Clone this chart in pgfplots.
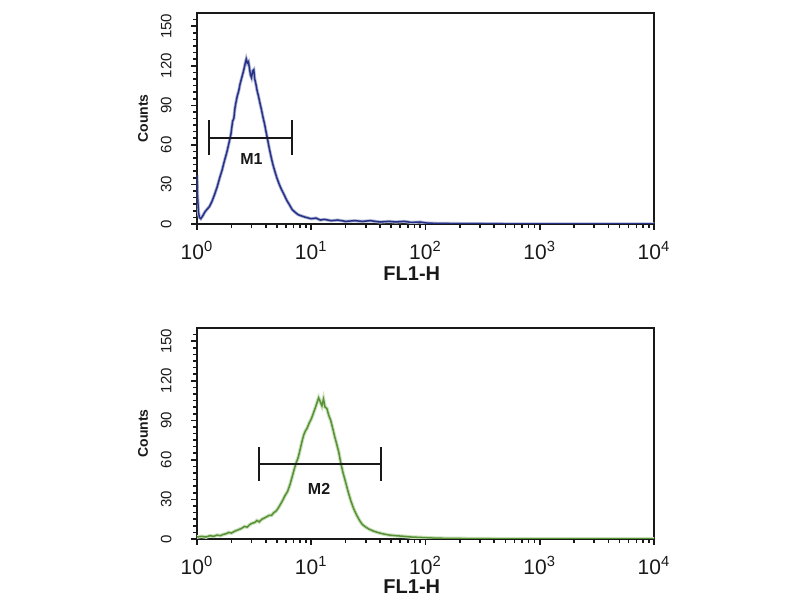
\documentclass[border=0pt]{standalone}
\usepackage{fontspec}
\setmainfont{Liberation Sans}
\usepackage{pgfplots}
\usepackage{pgfplotstable}
\pgfplotsset{compat=1.18}
\definecolor{fcblue}{RGB}{38,50,135}
\definecolor{fcgreen}{RGB}{105,170,65}
\definecolor{axgray}{RGB}{25,25,25}

\pgfplotstableread{
x y
1.00 37
1.01 22
1.03 9
1.05 5
1.08 4
1.12 6
1.17 9
1.22 11
1.28 13
1.35 17
1.42 22
1.50 28
1.58 35
1.66 41
1.74 48
1.82 54
1.90 61
1.98 68
2.05 78
2.10 80
2.15 88
2.19 92
2.25 97
2.32 101
2.38 106
2.43 109
2.50 113
2.57 117
2.63 121
2.70 125
2.76 122
2.82 123
2.88 118
2.94 113
3.00 111
3.07 116
3.14 117
3.20 110
3.28 106
3.36 101
3.45 97
3.55 92
3.66 87
3.78 81
3.90 76
4.02 70
4.15 64
4.30 57
4.45 51
4.62 45
4.80 40
5.00 35
5.25 30
5.50 26
5.80 22
6.10 18
6.40 15
6.80 11
7.20 9
7.70 7
8.30 6
9.00 5
10.0 4
11 4.5
12 3
13 3.5
15 2.5
17 3
20 2
24 2.5
28 2
33 2.5
40 1.5
48 2
55 1.5
65 2
75 1.2
90 1.5
100 0.8
120 0.5
150 0.4
200 0.3
300 0.2
500 0.1
1000 0
10000 0
}\topdata

\pgfplotstableread{
x y
1.0 1.5
1.1 2
1.2 1.5
1.3 2.5
1.4 2
1.5 3
1.6 2.5
1.7 3.5
1.8 4
1.9 5
2.0 4.5
2.15 6
2.3 7
2.45 8
2.6 9.5
2.75 9
2.9 11
3.05 12
3.2 12.5
3.35 14
3.5 13
3.7 15
3.9 16
4.1 17
4.3 18
4.5 18
4.7 20
4.9 21
5.1 23
5.35 26
5.6 29
5.9 33
6.2 36
6.5 41
6.8 47
7.1 53
7.4 58
7.7 62
8.0 68
8.3 74
8.6 79
8.9 82
9.2 84
9.6 88
10.0 91
10.4 95
10.8 99
11.2 103
11.6 107
12.0 104
12.4 101
12.8 106
13.2 100
13.7 99
14.2 94
14.8 90
15.4 84
16.0 78
16.7 72
17.4 66
18.2 57
19.0 50
20.0 43
21.0 36
22.2 29
23.5 23
25.0 18
26.5 14
28.0 11
30.0 9
32.0 7.5
35 6
38 5
42 4
48 3
55 2.5
65 2
75 1.5
90 1.2
110 0.8
150 0.5
250 0.3
500 0.1
1000 0
10000 0
}\botdata

\begin{document}
\begin{tikzpicture}
\path[use as bounding box] (0,0) rectangle (400pt,300pt);

\begin{axis}[
  at={(98.5pt,188pt)},
  scale only axis, width=228.5pt, height=105.5pt, anchor=south west,
  xmode=log, xmin=1, xmax=10000, ymin=0, ymax=160,
  xtick={1,10,100,1000,10000},
  xticklabels={10\textsuperscript{0},10\textsuperscript{1},10\textsuperscript{2},10\textsuperscript{3},10\textsuperscript{4}},
  minor xtick={2,3,4,5,6,7,8,9,20,30,40,50,60,70,80,90,200,300,400,500,600,700,800,900,2000,3000,4000,5000,6000,7000,8000,9000},
  ytick={0,30,60,90,120,150},
  minor ytick={5,10,15,20,25,35,40,45,50,55,65,70,75,80,85,95,100,105,110,115,125,130,135,140,145,155},
  tick align=outside, xtick pos=bottom, ytick pos=left,
  major tick length=3pt, minor tick length=1.8pt,
  axis line style={line width=1.3pt, axgray},
  every tick/.append style={axgray, line width=0.8pt},
  yticklabels={0,30,60,90,120,150},
  yticklabel style={rotate=90, anchor=south, inner ysep=9.5pt, font=\fontsize{7.5}{8}\selectfont, text=axgray},
  xticklabel style={yshift=-2pt, font=\fontsize{10.5}{11}\selectfont, text=axgray},
  xlabel={\textbf{FL1-H}},
  xlabel style={at={(axis description cs:0.47,-0.235)}, anchor=center, font=\fontsize{10}{11}\selectfont, text=axgray},
  ylabel={\textbf{Counts}},
  ylabel style={at={(axis description cs:-0.118,0.5)}, anchor=center, font=\fontsize{7}{8}\selectfont, text=axgray},
]
\addplot[fcblue!35, line width=1.6pt, no markers] table[x=x,y=y] {\topdata};
\addplot[fcblue, line width=0.75pt, no markers] table[x=x,y=y] {\topdata};
\addplot[axgray, line width=0.9pt, no markers] coordinates {(1.27,65.5) (6.8,65.5)};
\addplot[axgray, line width=0.9pt, no markers] coordinates {(1.27,52.5) (1.27,78.5)};
\addplot[axgray, line width=0.9pt, no markers] coordinates {(6.8,52.5) (6.8,78.5)};
\node[font=\fontsize{8}{9}\selectfont\bfseries, text=axgray] at (axis cs:3.0,49) {M1};
\end{axis}

\begin{axis}[
  at={(98.5pt,30.5pt)},
  scale only axis, width=228.5pt, height=105.5pt, anchor=south west,
  xmode=log, xmin=1, xmax=10000, ymin=0, ymax=160,
  xtick={1,10,100,1000,10000},
  xticklabels={10\textsuperscript{0},10\textsuperscript{1},10\textsuperscript{2},10\textsuperscript{3},10\textsuperscript{4}},
  minor xtick={2,3,4,5,6,7,8,9,20,30,40,50,60,70,80,90,200,300,400,500,600,700,800,900,2000,3000,4000,5000,6000,7000,8000,9000},
  ytick={0,30,60,90,120,150},
  minor ytick={5,10,15,20,25,35,40,45,50,55,65,70,75,80,85,95,100,105,110,115,125,130,135,140,145,155},
  tick align=outside, xtick pos=bottom, ytick pos=left,
  major tick length=3pt, minor tick length=1.8pt,
  axis line style={line width=1.3pt, axgray},
  every tick/.append style={axgray, line width=0.8pt},
  yticklabels={0,30,60,90,120,150},
  yticklabel style={rotate=90, anchor=south, inner ysep=9.5pt, font=\fontsize{7.5}{8}\selectfont, text=axgray},
  xticklabel style={yshift=-2pt, font=\fontsize{10.5}{11}\selectfont, text=axgray},
  xlabel={\textbf{FL1-H}},
  xlabel style={at={(axis description cs:0.47,-0.225)}, anchor=center, font=\fontsize{10}{11}\selectfont, text=axgray},
  ylabel={\textbf{Counts}},
  ylabel style={at={(axis description cs:-0.118,0.5)}, anchor=center, font=\fontsize{7}{8}\selectfont, text=axgray},
]
\addplot[fcgreen!35, line width=1.8pt, no markers] table[x=x,y=y] {\botdata};
\addplot[fcgreen!85!black, line width=0.75pt, no markers] table[x=x,y=y] {\botdata};
\addplot[axgray, line width=0.9pt, no markers] coordinates {(3.49,57) (40.8,57)};
\addplot[axgray, line width=0.9pt, no markers] coordinates {(3.49,44) (3.49,70)};
\addplot[axgray, line width=0.9pt, no markers] coordinates {(40.8,44) (40.8,70)};
\node[font=\fontsize{8}{9}\selectfont\bfseries, text=axgray] at (axis cs:11.7,38) {M2};
\end{axis}
\end{tikzpicture}
\end{document}
